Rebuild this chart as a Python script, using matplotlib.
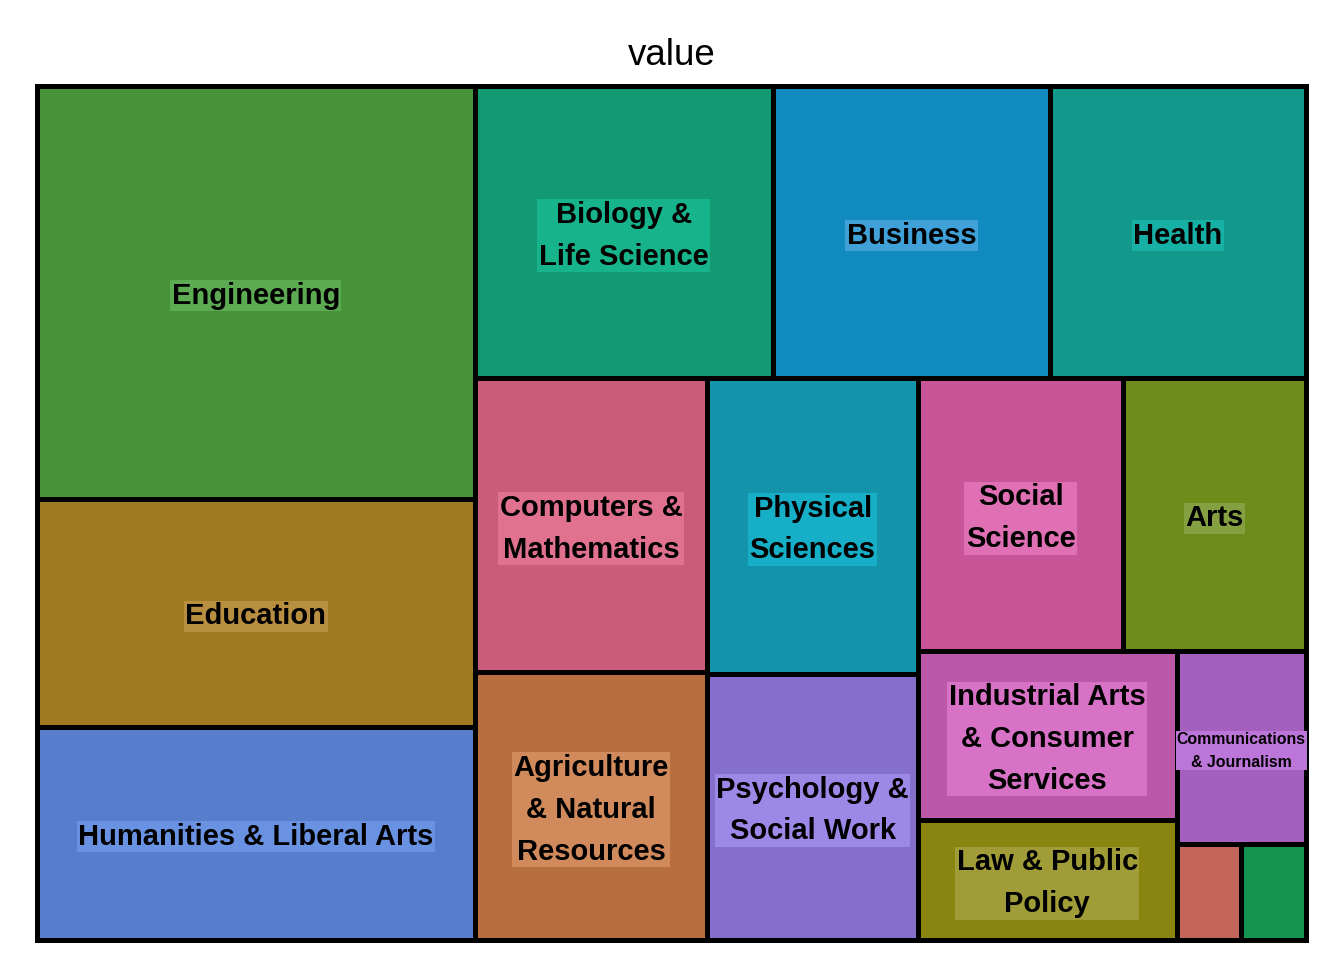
import matplotlib.pyplot as plt
from matplotlib.patches import Rectangle

plt.rcParams['font.family'] = ['Liberation Sans', 'DejaVu Sans']

# counts of majors per category
categories = ['Engineering', 'Education', 'Humanities & Liberal Arts',
              'Biology & Life Science', 'Business', 'Health',
              'Computers & Mathematics', 'Agriculture & Natural Resources',
              'Physical Sciences', 'Psychology & Social Work', 'Social Science',
              'Arts', 'Industrial Arts & Consumer Services', 'Law & Public Policy',
              'Communications & Journalism', 'Interdisciplinary', 'Other']
labels = ['Engineering', 'Education', 'Humanities & Liberal Arts',
          'Biology &\nLife Science', 'Business', 'Health',
          'Computers &\nMathematics', 'Agriculture\n& Natural\nResources',
          'Physical\nSciences', 'Psychology &\nSocial Work', 'Social\nScience',
          'Arts', 'Industrial Arts\n& Consumer\nServices', 'Law & Public\nPolicy',
          'Communications\n& Journalism', '', '']
values = [29, 16, 15, 14, 13, 12, 11, 10, 10, 9, 9, 8, 7, 5, 4, 1, 1]

rect_colors = ['#48923A', '#A07A20', '#567ECC', '#139A72', '#118AC0', '#13988C',
               '#C85C7A', '#B86E3E', '#1394AA', '#8470CC', '#C85598', '#6E8C1C',
               '#BC58AA', '#8A8410', '#A55FBF', '#C4655A', '#139550']
label_colors = ['#5CAA52', '#B88E40', '#6A92E2', '#17B38A', '#40A0D8', '#17B0A5',
                '#E07290', '#D08A5C', '#17AEC8', '#9C88E6', '#E070B4', '#84A040',
                '#D872C6', '#A09C38', '#BC75D8', '#C4655A', '#139550']


def pivot_by_size(vals, x, y, w, h):
    # pivot = largest (first, list is sorted), L2 sized so the pivot is squarest
    if not vals:
        return []
    if len(vals) == 1:
        return [(x, y, w, h)]
    total = sum(vals)
    p, rest = vals[0], vals[1:]
    best_k, best_ar = 0, float('inf')
    for k in range(len(rest) + 1):
        s = p + sum(rest[:k])
        if w >= h:
            a, b = w * s / total, h * p / s
        else:
            a, b = w * p / s, h * s / total
        ar = max(a / b, b / a)
        if ar < best_ar:
            best_k, best_ar = k, ar
    l2, l3 = rest[:best_k], rest[best_k:]
    s = p + sum(l2)
    if w >= h:
        sw, ph = w * s / total, h * p / s
        return ([(x, y, sw, ph)] + pivot_by_size(l2, x, y + ph, sw, h - ph)
                + pivot_by_size(l3, x + sw, y, w - sw, h))
    sh, pw = h * s / total, w * p / s
    return ([(x, y, pw, sh)] + pivot_by_size(l2, x + pw, y, w - pw, sh)
            + pivot_by_size(l3, x, y + sh, w, h - sh))


fig = plt.figure(figsize=(13.44, 9.6), dpi=100)
pos = [0.0275, 0.0208, 0.9442, 0.8896]
ax = fig.add_axes(pos)
W, H = pos[2] * 1344, pos[3] * 960
rects = pivot_by_size(values, 0, 0, W, H)

for (x, y, w, h), lab, c, lc in zip(rects, labels, rect_colors, label_colors):
    ax.add_patch(Rectangle((x, y), w, h, facecolor=c, edgecolor='black',
                           linewidth=3.6, clip_on=False))
    if lab:
        fs = 11.4 if lab.startswith('Communications') else 21
        ax.text(x + w / 2, y + h / 2 + 3.5, lab, ha='center', va='center',
                fontsize=fs, fontweight='bold', color='black', linespacing=1.63,
                bbox=dict(boxstyle='square,pad=0.05', facecolor=lc, edgecolor='none'))

ax.set_xlim(0, W)
ax.set_ylim(H, 0)
ax.axis('off')
ax.set_title('value', fontsize=26.5, pad=15)

fig.savefig('out.png', dpi=100)
